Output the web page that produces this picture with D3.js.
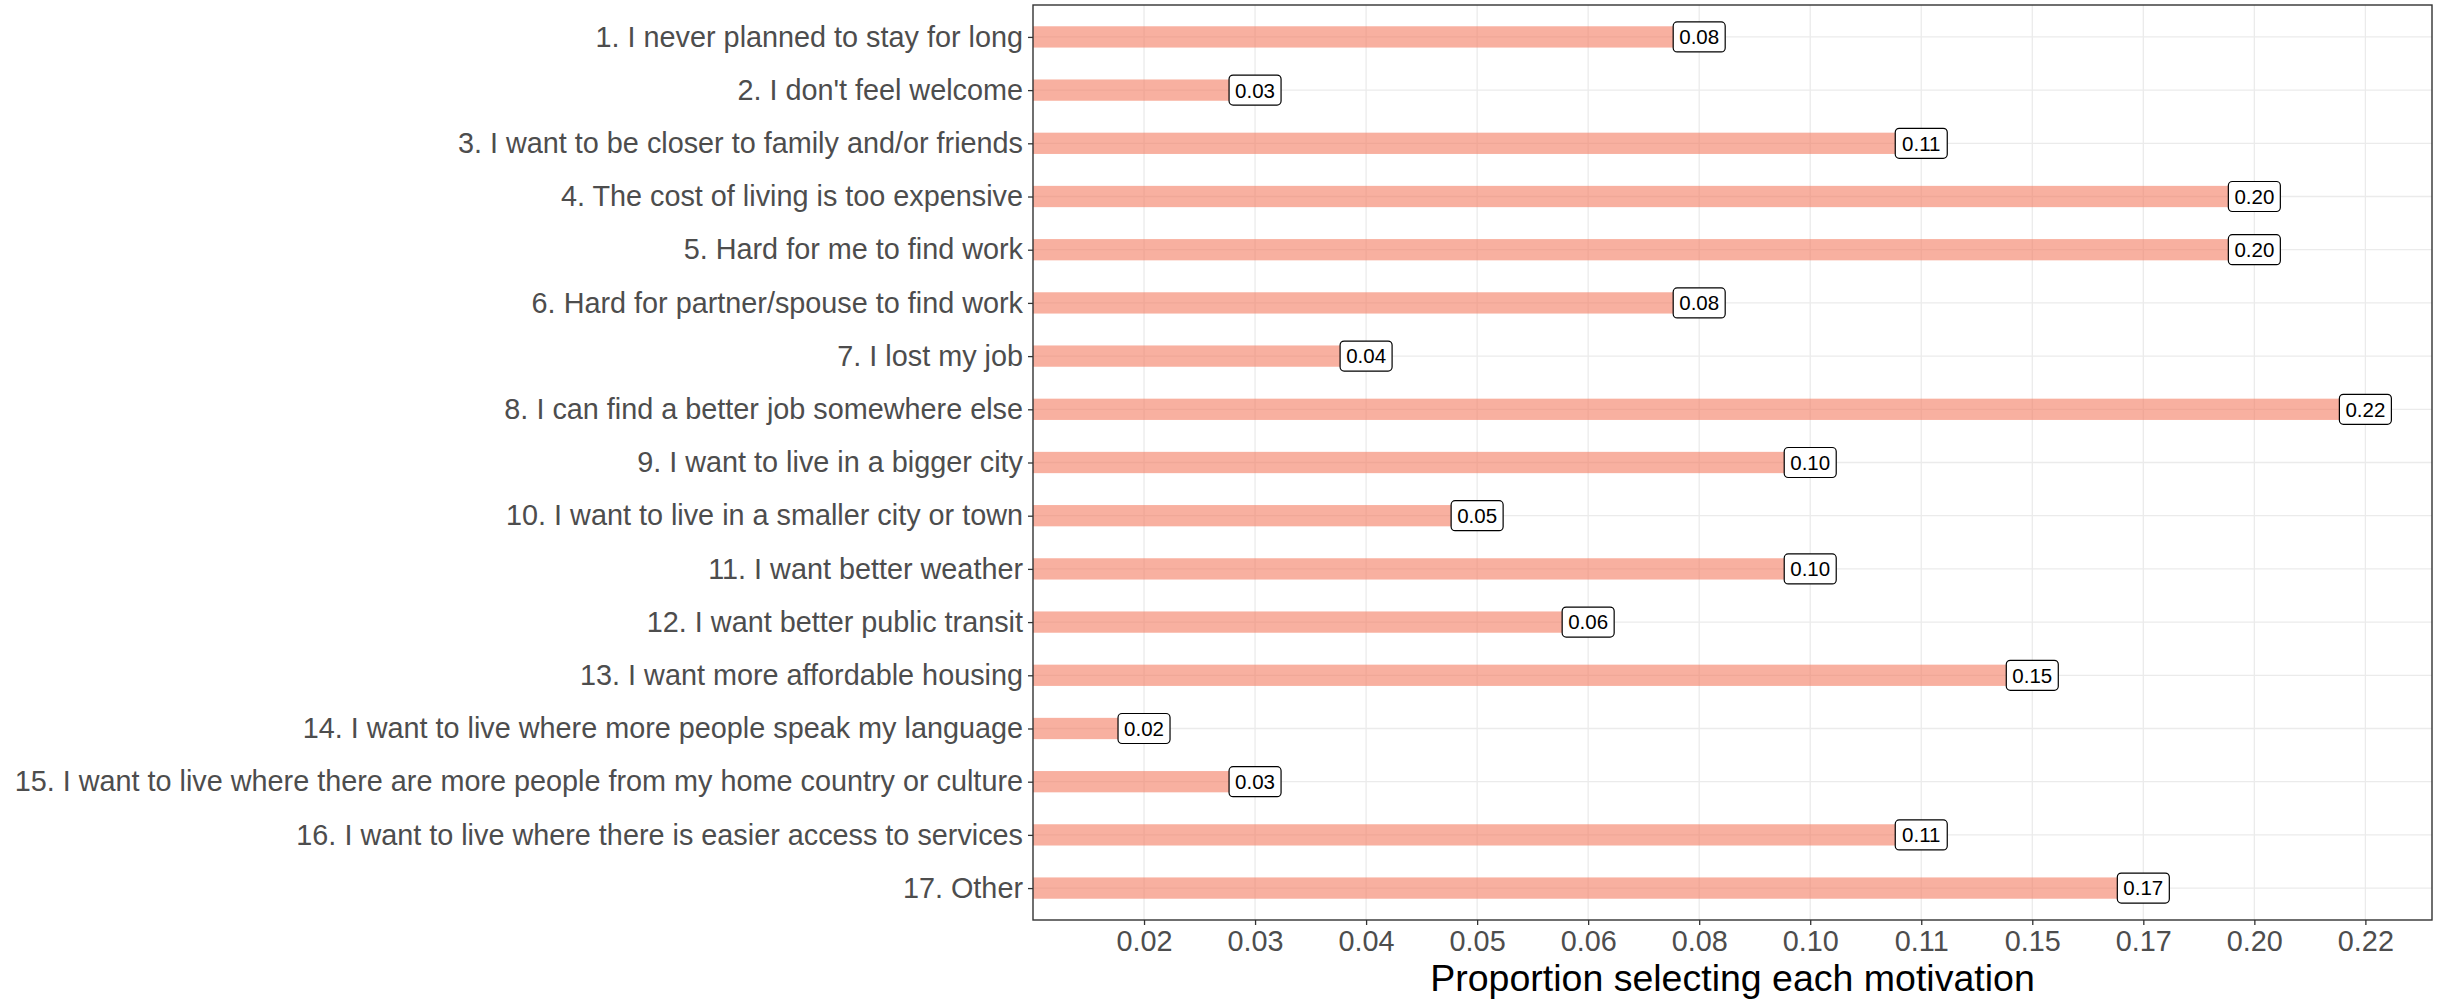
<!DOCTYPE html>
<html>
<head>
<meta charset="utf-8">
<script src="https://cdn.jsdelivr.net/npm/d3@7"></script>
<style>
  body { margin: 0; background: #fff; }
  svg { display: block; font-family: "Liberation Sans", Arial, sans-serif; }
</style>
</head>
<body>
<svg id="chart" width="2443" height="1000"></svg>
<script>
// motivations, top to bottom
const categories = [
  "1. I never planned to stay for long",
  "2. I don't feel welcome",
  "3. I want to be closer to family and/or friends",
  "4. The cost of living is too expensive",
  "5. Hard for me to find work",
  "6. Hard for partner/spouse to find work",
  "7. I lost my job",
  "8. I can find a better job somewhere else",
  "9. I want to live in a bigger city",
  "10. I want to live in a smaller city or town",
  "11. I want better weather",
  "12. I want better public transit",
  "13. I want more affordable housing",
  "14. I want to live where more people speak my language",
  "15. I want to live where there are more people from my home country or culture",
  "16. I want to live where there is easier access to services",
  "17. Other"
];
const values = [0.08, 0.03, 0.11, 0.20, 0.20, 0.08, 0.04, 0.22, 0.10, 0.05, 0.10, 0.06, 0.15, 0.02, 0.03, 0.11, 0.17];
// the x axis is discrete: one evenly spaced tick per distinct value
const tickLabels = ["0.02", "0.03", "0.04", "0.05", "0.06", "0.08", "0.10", "0.11", "0.15", "0.17", "0.20", "0.22"];
const axisTitle = "Proportion selecting each motivation";

const fmt = d3.format(".2f");
const rank = v => tickLabels.indexOf(fmt(v)) + 1;

const panel = {left: 1033, right: 2432, top: 5, bottom: 920};
const svg = d3.select("#chart");

const x = d3.scaleLinear().domain([0, tickLabels.length + 0.6]).range([panel.left, panel.right]);
const y = d3.scalePoint().domain(categories).range([panel.top, panel.bottom]).padding(0.6);

// grid
const grid = svg.append("g");
grid.selectAll("line.v").data(d3.range(1, tickLabels.length + 1)).enter().append("line")
  .attr("x1", d => x(d)).attr("x2", d => x(d))
  .attr("y1", panel.top).attr("y2", panel.bottom)
  .attr("stroke", "#EBEBEB").attr("stroke-width", 1.3);
grid.selectAll("line.h").data(categories).enter().append("line")
  .attr("y1", d => y(d)).attr("y2", d => y(d))
  .attr("x1", panel.left).attr("x2", panel.right)
  .attr("stroke", "#EBEBEB").attr("stroke-width", 1.3);

// bars
const barH = y.step() * 0.4;
svg.append("g").selectAll("rect").data(values).enter().append("rect")
  .attr("x", x(0))
  .attr("y", (d, i) => y(categories[i]) - barH / 2)
  .attr("width", d => x(rank(d)) - x(0))
  .attr("height", barH)
  .attr("fill", "#F37B61").attr("fill-opacity", 0.6);

// value labels
const lab = svg.append("g").selectAll("g").data(values).enter().append("g")
  .attr("transform", (d, i) => `translate(${x(rank(d))},${y(categories[i])})`);
lab.append("rect")
  .attr("x", -26).attr("y", -15).attr("width", 52).attr("height", 30)
  .attr("rx", 4).attr("fill", "#fff").attr("stroke", "#000").attr("stroke-width", 1.2);
lab.append("text")
  .attr("text-anchor", "middle").attr("dy", "0.36em")
  .attr("font-size", 20.5).attr("fill", "#000")
  .text(d => fmt(d));

// panel border
svg.append("rect")
  .attr("x", panel.left).attr("y", panel.top)
  .attr("width", panel.right - panel.left).attr("height", panel.bottom - panel.top)
  .attr("fill", "none").attr("stroke", "#333").attr("stroke-width", 1.4);

// axes
const xAxis = svg.append("g").attr("transform", `translate(0,${panel.bottom})`)
  .call(d3.axisBottom(x).tickValues(d3.range(1, tickLabels.length + 1))
    .tickFormat(i => tickLabels[i - 1]).tickSize(5).tickPadding(6));
const yAxis = svg.append("g").attr("transform", `translate(${panel.left},0)`)
  .call(d3.axisLeft(y).tickSize(5).tickPadding(5));
[xAxis, yAxis].forEach(a => {
  a.select(".domain").remove();
  a.selectAll(".tick line").attr("stroke", "#333").attr("stroke-width", 1.3);
  a.selectAll(".tick text").attr("fill", "#4D4D4D").attr("font-size", 28.8)
    .attr("font-family", "'Liberation Sans', Arial, sans-serif");
});

svg.append("text")
  .attr("x", (panel.left + panel.right) / 2).attr("y", 991)
  .attr("text-anchor", "middle").attr("font-size", 37.5).attr("fill", "#000")
  .text(axisTitle);
</script>
</body>
</html>
